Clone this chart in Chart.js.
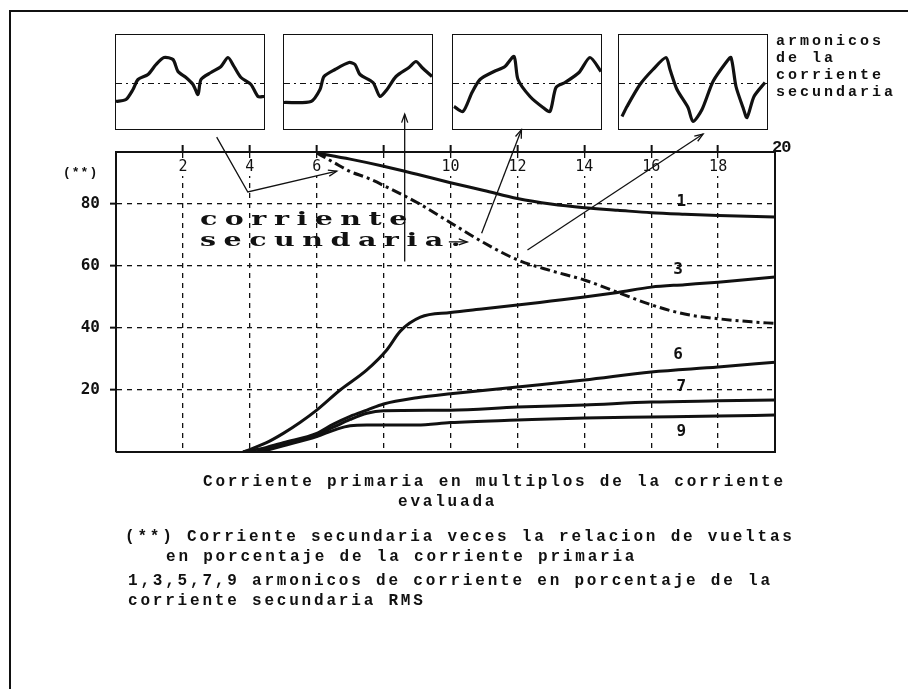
<!DOCTYPE html>
<html>
<head>
<meta charset="utf-8">
<script src="https://cdn.jsdelivr.net/npm/chart.js@4.4.1/dist/chart.umd.min.js"></script>
<style>
  body { margin: 0; background: #fff; }
  #page { position: relative; width: 908px; height: 689px; overflow: hidden; background: #fff; }
  #frame { position: absolute; left: 9px; top: 10px; width: 920px; height: 700px;
           border-left: 2px solid #111; border-top: 2px solid #111; }
  #main { position: absolute; left: 0; top: 0; }
  .inset { position: absolute; top: 34px; width: 148px; height: 94px; border: 1.5px solid #111; }
  .inset canvas { display: block; }
  .txt { position: absolute; font-family: "Liberation Mono", monospace; font-weight: bold;
         color: #111; white-space: pre; line-height: 1; }
  .cap { font-size: 16px; letter-spacing: 2.8px; }
  .side { font-size: 15px; letter-spacing: 3px; left: 776px; }
  #bigText { position: absolute; left: 200px; top: 208px; font-family: "DejaVu Serif", serif;
             font-weight: bold; font-size: 19px; letter-spacing: 5px; line-height: 21px;
             transform: scaleX(1.5); transform-origin: left top; color: #111; white-space: pre; }
</style>
</head>
<body>
<div id="page">
  <div id="frame"></div>
  <canvas id="main" width="908" height="689"></canvas>

  <div class="inset" style="left:115px"><canvas id="w1" width="148" height="94"></canvas></div>
  <div class="inset" style="left:283px"><canvas id="w2" width="148" height="94"></canvas></div>
  <div class="inset" style="left:452px"><canvas id="w3" width="148" height="94"></canvas></div>
  <div class="inset" style="left:618px"><canvas id="w4" width="148" height="94"></canvas></div>

  <div class="txt side" style="top:34px">armonicos</div>
  <div class="txt side" style="top:51px">de la</div>
  <div class="txt side" style="top:68px">corriente</div>
  <div class="txt side" style="top:85px">secundaria</div>

  <div class="txt" style="left:63px; top:166px; font-size:13px; letter-spacing:1px">(**)</div>
  <div class="txt" style="left:772px; top:139px; font-size:17px; letter-spacing:-1px">20</div>

  <div id="bigText">corriente
secundaria.</div>

  <div class="txt cap" style="left:203px; top:474px">Corriente primaria en multiplos de la corriente</div>
  <div class="txt cap" style="left:398px; top:494px">evaluada</div>
  <div class="txt cap" style="left:125px; top:529px">(**) Corriente secundaria veces la relacion de vueltas</div>
  <div class="txt cap" style="left:166px; top:549px">en porcentaje de la corriente primaria</div>
  <div class="txt cap" style="left:128px; top:573px">1,3,5,7,9 armonicos de corriente en porcentaje de la</div>
  <div class="txt cap" style="left:128px; top:593px">corriente secundaria RMS</div>
</div>

<script>
// Main plot: x = primary current in multiples of rated current, y = percent
const xTicks = [2, 4, 6, 10, 12, 14, 16, 18];
const xGrid = [2, 4, 6, 8, 10, 12, 14, 16, 18];
const yTicks = [20, 40, 60, 80];

// (**) secondary current (dash-dot)
const secX = [6, 6.5, 7, 7.5, 8, 9, 10, 11, 12, 13, 14, 15, 16, 17, 18, 19, 19.7];
const secY = [96.5, 93.5, 90.5, 88.5, 86, 80.5, 74, 67.5, 62, 58.5, 55.5, 51.5, 47.5, 44.5, 43, 42, 41.5];

// harmonic curves
const curve1X = [6, 7, 8, 9, 10, 11, 12, 13, 14, 15, 16, 17, 18, 19.7];
const curve1Y = [96.5, 94.5, 92.2, 89.6, 86.9, 84.4, 81.8, 80.0, 78.8, 78.0, 77.2, 76.7, 76.3, 75.8];
const curve3X = [3.8, 4.5, 5, 5.5, 6, 6.7, 7.5, 8.1, 8.5, 9.1, 10, 11, 12, 13, 14, 15, 16, 17, 18, 19.7];
const curve3Y = [0, 3, 6, 9.5, 13.5, 20, 26.5, 33, 39, 43.5, 45, 46.2, 47.4, 48.7, 50, 51.5, 53.2, 54, 54.8, 56.5];
const curve6X = [3.8, 4.5, 5, 6, 6.5, 7, 7.5, 8, 9, 10, 12, 14, 16, 18, 19.7];
const curve6Y = [0, 1.5, 3, 6, 9, 11.5, 13.5, 15.5, 17.5, 18.8, 21, 23.2, 25.8, 27.4, 29];
const curve7X = [4.2, 5, 6, 6.5, 7, 7.5, 8, 10, 12, 14, 16, 18, 19.7];
const curve7Y = [0, 2.5, 5.5, 8, 10.5, 12.5, 13.3, 13.5, 14.5, 15.2, 16.1, 16.5, 16.8];
const curve9X = [4.3, 5, 6, 6.5, 7, 7.5, 9, 10, 12, 14, 16, 18, 19.7];
const curve9Y = [0, 2, 5, 7, 8.5, 8.7, 8.7, 9.5, 10.3, 11, 11.3, 11.6, 11.9];

const curveLabels = ["1", "3", "6", "7", "9"];
const curveLabelX = [16.9, 16.8, 16.8, 16.9, 16.9];
const curveLabelY = [80.6, 58.7, 31.3, 21, 6.5];

// pointer lines from the waveform boxes (data units, arrow at last point)
const pointers = [
  [[3.01, 101.6], [3.94, 83.9], [6.6, 90.6]],
  [[8.63, 61.5], [8.63, 109]],
  [[10.93, 70.6], [12.12, 104]],
  [[12.3, 65.2], [17.55, 102.6]],
  [[9.95, 67.8], [10.5, 67.8]]
];

// Waveforms of the secondary current (inset boxes)
const wave1X = [0, 10, 17, 22, 32, 40, 48, 57, 62, 70, 77, 82, 85, 95, 105, 112, 118, 125, 135, 142, 148];
const wave1Y = [-18, -16, -6, 4, 9, 19, 26, 24, 12, 6, -1, -11, 4, 11, 17, 26, 17, 6, -1, -13, -13];
const wave2X = [0, 27, 36, 40, 51, 65, 71, 76, 89, 96, 103, 112, 125, 132, 138, 148];
const wave2Y = [-19, -18, -6, 7, 14, 21, 19, 9, 1, -13, -6, 7, 16, 22, 16, 7];
const wave3X = [1, 10, 19, 27, 41, 52, 61, 65, 77, 90, 97, 103, 112, 126, 137, 148];
const wave3Y = [-23, -28, -9, 4, 12, 17, 27, 4, -13, -24, -28, -4, 1, 11, 26, 12];
const wave4X = [3, 8, 21, 34, 47, 51, 58, 69, 74, 83, 94, 107, 112, 117, 124, 128, 135, 146];
const wave4Y = [-33, -23, -1, 14, 26, 14, -6, -24, -38, -26, 2, 21, 26, -3, -24, -34, -13, 1];

const ink = "#111";

function toPoints(xs, ys) {
  return xs.map((x, i) => ({ x: x, y: ys[i] }));
}

function curve(xs, ys, dash) {
  return {
    data: toPoints(xs, ys),
    borderColor: ink,
    borderWidth: 3,
    borderDash: dash || [],
    pointRadius: 0,
    cubicInterpolationMode: "monotone",
    fill: false
  };
}

function arrowHead(ctx, x1, y1, x2, y2) {
  const a = Math.atan2(y2 - y1, x2 - x1);
  const len = 9;
  ctx.beginPath();
  ctx.moveTo(x2 - len * Math.cos(a - 0.35), y2 - len * Math.sin(a - 0.35));
  ctx.lineTo(x2, y2);
  ctx.lineTo(x2 - len * Math.cos(a + 0.35), y2 - len * Math.sin(a + 0.35));
  ctx.stroke();
}

// white patches so the x labels sit on a clear spot, drawn before the curves
const labelGaps = {
  id: "labelGaps",
  beforeDatasetsDraw(chart) {
    const { ctx, chartArea, scales } = chart;
    ctx.save();
    ctx.fillStyle = "#fff";
    xTicks.forEach(v => {
      const x = scales.x.getPixelForValue(v);
      const w = String(v).length * 9 + 4;
      ctx.fillRect(x - w / 2, chartArea.top + 7, w, 17);
    });
    ctx.restore();
  }
};

// right + bottom sides of the plot box, x labels under the top axis, curve numbers, pointers
const extras = {
  id: "extras",
  afterDraw(chart) {
    const { ctx, chartArea, scales } = chart;
    const xs = scales.x, ys = scales.y;
    ctx.save();
    ctx.strokeStyle = ink;
    ctx.lineWidth = 2;
    ctx.beginPath();
    ctx.moveTo(chartArea.right, chartArea.top);
    ctx.lineTo(chartArea.right, chartArea.bottom);
    ctx.lineTo(chartArea.left, chartArea.bottom);
    ctx.stroke();

    ctx.fillStyle = ink;
    ctx.textAlign = "center";
    ctx.textBaseline = "middle";

    ctx.font = "15px 'DejaVu Sans Mono'";
    xTicks.forEach(v => {
      ctx.fillText(String(v), xs.getPixelForValue(v), chartArea.top + 15);
    });

    ctx.font = "bold 16px 'DejaVu Sans Mono'";
    curveLabels.forEach((t, i) => {
      ctx.fillText(t, xs.getPixelForValue(curveLabelX[i]), ys.getPixelForValue(curveLabelY[i]));
    });

    ctx.lineWidth = 1.3;
    pointers.forEach(p => {
      const px = p.map(q => [xs.getPixelForValue(q[0]), ys.getPixelForValue(q[1])]);
      ctx.beginPath();
      ctx.moveTo(px[0][0], px[0][1]);
      for (let i = 1; i < px.length; i++) ctx.lineTo(px[i][0], px[i][1]);
      ctx.stroke();
      const n = px.length;
      arrowHead(ctx, px[n - 2][0], px[n - 2][1], px[n - 1][0], px[n - 1][1]);
    });
    ctx.restore();
  }
};

new Chart(document.getElementById("main"), {
  type: "line",
  data: {
    datasets: [
      curve(secX, secY, [10, 4, 3, 4]),
      curve(curve1X, curve1Y),
      curve(curve3X, curve3Y),
      curve(curve6X, curve6Y),
      curve(curve7X, curve7Y),
      curve(curve9X, curve9Y)
    ]
  },
  options: {
    responsive: false,
    animation: false,
    devicePixelRatio: 1,
    layout: { padding: { left: 116 - 50, top: 152 - 24, right: 908 - 775, bottom: 689 - 452 } },
    plugins: { legend: { display: false }, tooltip: { enabled: false } },
    scales: {
      x: {
        type: "linear",
        position: "top",
        min: 0,
        max: 19.7,
        afterFit: s => { s.height = 24; },
        afterBuildTicks: s => { s.ticks = xGrid.map(v => ({ value: v })); },
        ticks: { display: false },
        grid: { color: ink, lineWidth: 1.3, tickLength: 7, tickColor: ink, tickWidth: 2 },
        border: { display: true, color: ink, width: 2, dash: [5, 5] }
      },
      y: {
        type: "linear",
        min: 0,
        max: 96.8,
        afterFit: s => { s.width = 50; },
        afterBuildTicks: s => { s.ticks = yTicks.map(v => ({ value: v })); },
        ticks: {
          padding: 10,
          color: ink,
          font: { family: "DejaVu Sans Mono", size: 16, weight: "bold" }
        },
        grid: { color: ink, lineWidth: 1.3, tickLength: 6, tickColor: ink, tickWidth: 2 },
        border: { display: true, color: ink, width: 2, dash: [5, 5] }
      }
    }
  },
  plugins: [labelGaps, extras]
});

// inset waveform boxes
function waveChart(id, xs, ys) {
  new Chart(document.getElementById(id), {
    type: "line",
    data: {
      datasets: [
        {
          data: [{ x: 0, y: 0 }, { x: 148, y: 0 }],
          borderColor: ink,
          borderWidth: 1,
          borderDash: [6, 4, 2, 4],
          pointRadius: 0
        },
        {
          data: toPoints(xs, ys),
          borderColor: ink,
          borderWidth: 3.2,
          pointRadius: 0,
          tension: 0.25
        }
      ]
    },
    options: {
      responsive: false,
      animation: false,
      devicePixelRatio: 1,
      layout: { padding: 0 },
      plugins: { legend: { display: false }, tooltip: { enabled: false } },
      scales: {
        x: { type: "linear", min: 0, max: 148, display: false },
        y: { min: -45.5, max: 48.5, display: false }
      }
    }
  });
}

waveChart("w1", wave1X, wave1Y);
waveChart("w2", wave2X, wave2Y);
waveChart("w3", wave3X, wave3Y);
waveChart("w4", wave4X, wave4Y);
</script>
</body>
</html>
